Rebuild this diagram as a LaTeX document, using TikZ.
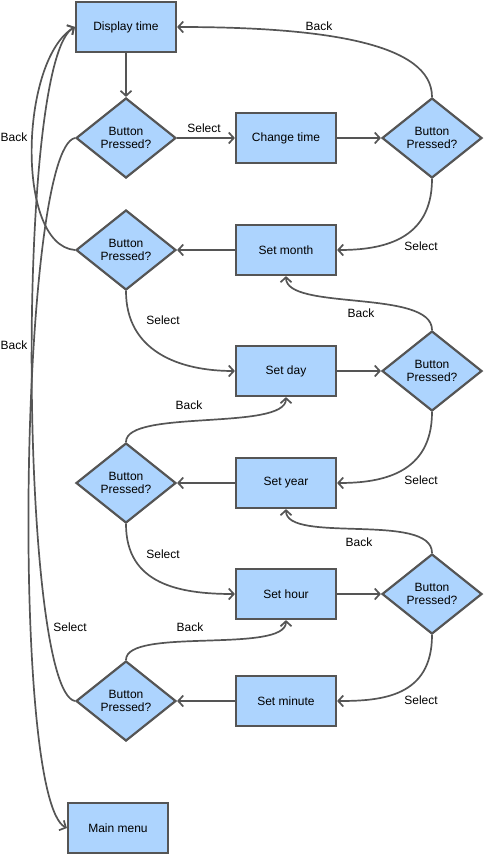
\documentclass[tikz,border=0pt]{standalone}
\usepackage{fontspec}
\setmainfont{Liberation Sans}
\usetikzlibrary{shapes.geometric,arrows.meta}
\definecolor{boxfill}{HTML}{ADD4FE}
\definecolor{linec}{HTML}{555555}
\begin{document}
\begin{tikzpicture}[x=1pt,y=-1pt,
  box/.style={draw=linec,fill=boxfill,line width=2.2pt,minimum width=100pt,minimum height=50pt,inner sep=0pt,font=\fontsize{12}{13.5}\selectfont},
  dia/.style={diamond,draw=linec,fill=boxfill,line width=2.2pt,minimum width=100pt,minimum height=80pt,inner sep=0pt,align=center,font=\fontsize{12}{13.5}\selectfont},
  con/.style={draw=linec,line width=1.7pt,-{Straight Barb[length=5pt,width=11pt]}},
  lab/.style={font=\fontsize{12}{13.5}\selectfont,inner sep=0pt}]
\useasboundingbox (0,0) rectangle (483,854);
% nodes
\node[box] (dt) at (126,27) {Display time};
\node[dia] (d1) at (126,138) {Button\\Pressed?};
\node[box] (ct) at (286,138) {Change time};
\node[dia] (d2) at (432,138) {Button\\Pressed?};
\node[box] (sm) at (286,250) {Set month};
\node[dia] (d3) at (126,250) {Button\\Pressed?};
\node[box] (sd) at (286,371) {Set day};
\node[dia] (d4) at (432,371) {Button\\Pressed?};
\node[box] (sy) at (286,483) {Set year};
\node[dia] (d5) at (126,483) {Button\\Pressed?};
\node[box] (sh) at (286,594) {Set hour};
\node[dia] (d6) at (432,594) {Button\\Pressed?};
\node[box] (smin) at (286,701) {Set minute};
\node[dia] (d7) at (126,701) {Button\\Pressed?};
\node[box] (mm) at (118,828) {Main menu};
% straight connectors
\draw[con] (dt) -- (d1);
\draw[con] (d1) -- (ct);
\draw[con] (ct) -- (d2);
\draw[con] (sm) -- (d3);
\draw[con] (sd) -- (d4);
\draw[con] (sy) -- (d5);
\draw[con] (sh) -- (d6);
\draw[con] (smin) -- (d7);
% right side
\draw[con] (d2.north) .. controls +(0,-53) and +(150,0) .. (dt.east);
\draw[con] (d2.south) .. controls +(0,62) and +(44,0) .. (sm.east);
\draw[con] (d4.south) .. controls +(0,62) and +(44,0) .. (sy.east);
\draw[con] (d6.south) .. controls +(0,62) and +(44,0) .. (smin.east);
\draw[con] (d4.north) .. controls +(0,-41) and +(0,35) .. (sm.south);
\draw[con] (d6.north) .. controls +(0,-41) and +(0,35) .. (sy.south);
% left middle
\draw[con] (d3.south) .. controls +(0,60) and +(-56,0) .. (sd.west);
\draw[con] (d5.south) .. controls +(0,60) and +(-56,0) .. (sh.west);
\draw[con] (d5.north) .. controls +(0,-33) and +(0,34) .. (sd.south);
\draw[con] (d7.north) .. controls +(0,-33) and +(0,34) .. (sh.south);
% far left
\draw[con] (d3.west) .. controls (15,245) and (20,60) .. (dt.west);
\draw[con] (d7.west) .. controls (20,690) and (15,60) .. (dt.west);
\draw[con] (d1.west) .. controls (20,150) and (10,800) .. (mm.west);
% labels
\node[lab] (l1) at (204,128) {Select};
\node[lab] (l2) at (319,26) {Back};
\node[lab] (l3) at (421,246) {Select};
\node[lab] (l4) at (14,137) {Back};
\node[lab] (l5) at (163,320) {Select};
\node[lab] (l6) at (361,313) {Back};
\node[lab] (l7) at (14,345) {Back};
\node[lab] (l8) at (189,405) {Back};
\node[lab] (l9) at (421,480) {Select};
\node[lab] (l10) at (163,554) {Select};
\node[lab] (l11) at (359,542) {Back};
\node[lab] (l12) at (190,627) {Back};
\node[lab] (l13) at (70,627) {Select};
\node[lab] (l14) at (421,700) {Select};
\end{tikzpicture}
\end{document}
